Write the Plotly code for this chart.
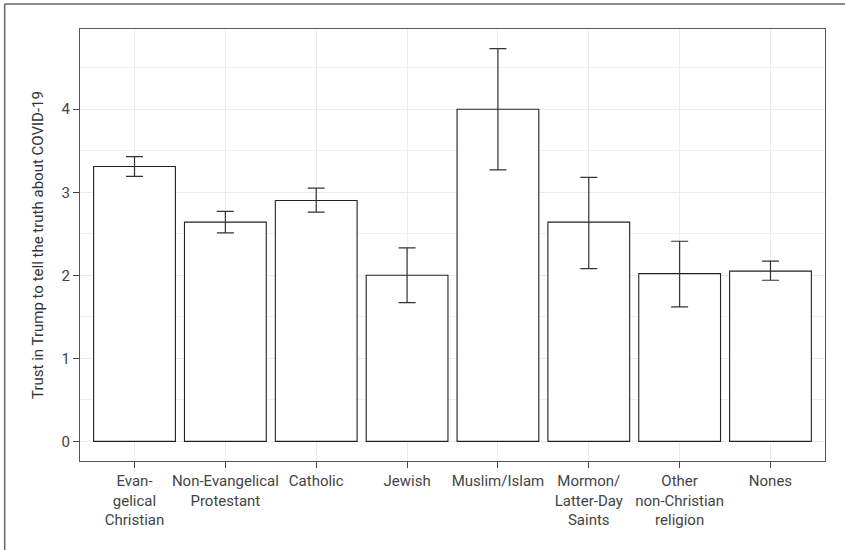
import plotly.graph_objects as go

categories = ["Evan-<br>gelical<br>Christian", "Non-Evangelical<br>Protestant", "Catholic", "Jewish",
              "Muslim/Islam", "Mormon/<br>Latter-Day<br>Saints", "Other<br>non-Christian<br>religion", "Nones"]
means = [3.31, 2.64, 2.90, 2.00, 4.00, 2.64, 2.02, 2.05]
upper = [3.43, 2.77, 3.05, 2.33, 4.73, 3.18, 2.41, 2.17]
lower = [3.19, 2.51, 2.76, 1.67, 3.27, 2.08, 1.62, 1.94]
y_ticks = [0, 1, 2, 3, 4]
y_title = "Trust in Trump to tell the truth about COVID-19"

FONT = "Roboto, sans-serif"

fig = go.Figure()
fig.add_trace(go.Bar(
    x=categories, y=means, width=0.9,
    marker=dict(color="white", line=dict(color="#222222", width=1.1)),
    error_y=dict(type="data", symmetric=False,
                 array=[u - m for u, m in zip(upper, means)],
                 arrayminus=[m - l for m, l in zip(means, lower)],
                 color="#333333", thickness=1.2, width=8.5),
    showlegend=False,
))

fig.update_layout(
    width=845, height=550,
    margin=dict(l=80, r=20, t=29, b=89),
    paper_bgcolor="white", plot_bgcolor="white",
    font=dict(family=FONT, size=15, color="#444444"),
    xaxis=dict(range=[-0.6, 7.6], showgrid=True, gridcolor="#ebebeb", gridwidth=1,
               ticks="outside", ticklen=6, tickcolor="#444444",
               showline=True, linecolor="#555555", linewidth=1, mirror=True,
               zeroline=False, tickfont=dict(size=15, color="#444444")),
    yaxis=dict(range=[-0.2365, 4.966], tickvals=y_ticks, showgrid=True,
               gridcolor="#ebebeb", gridwidth=1,
               minor=dict(tickvals=[0.5, 1.5, 2.5, 3.5, 4.5], showgrid=True, gridcolor="#f0f0f0", gridwidth=1),
               ticks="outside", ticklen=6, tickcolor="#444444",
               showline=True, linecolor="#555555", linewidth=1, mirror=True,
               zeroline=False, tickfont=dict(size=15, color="#444444"),
               title=dict(text=y_title, font=dict(size=15, color="#333333"), standoff=14)),
    bargap=0.1,
)

# outer frame (left and top edges visible)
fig.add_shape(type="line", xref="paper", yref="paper",
              x0=-0.1011, x1=-0.1011, y0=-0.3, y1=1.0579,
              line=dict(color="#666666", width=1.5))
fig.add_shape(type="line", xref="paper", yref="paper",
              x0=-0.1011, x1=1.1, y0=1.0579, y1=1.0579,
              line=dict(color="#666666", width=1.5))

fig.write_html("out.html")
